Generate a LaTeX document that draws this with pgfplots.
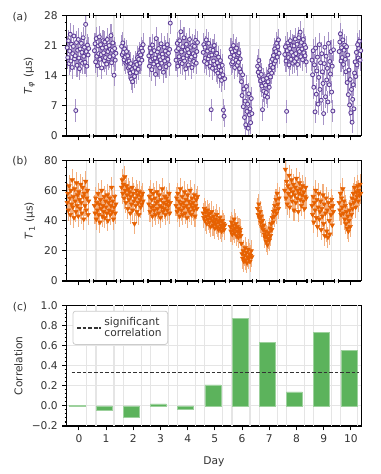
\documentclass[border=0pt]{standalone}
\usepackage{fontspec}
\setmainfont{DejaVu Sans}
\usepackage{pgfplots}
\pgfplotsset{compat=1.18}

\definecolor{purp}{HTML}{5E3C99}
\definecolor{orng}{HTML}{E66101}
\definecolor{barg}{HTML}{5CB35C}
\definecolor{txt}{HTML}{333333}

\tikzset{axl/.style={black, line width=0.9pt}}

\pgfplotsset{
  panel/.style={
    scale only axis, width=220.9pt, height=90.5pt,
    xmin=-0.45, xmax=10.38,
    axis line style={line width=0.9pt},
    tick pos=left, tick align=outside,
    major tick length=3.2pt, minor tick length=1.6pt,
    tick style={black, line width=0.8pt},
    xtick={0,...,10},
    ymajorgrids, xmajorgrids=false,
    grid style={black!10, line width=0.9pt},
    extra x ticks={0.29,0.63,1.29,1.63,2.29,2.63,3.29,3.63,4.29,4.63,5.29,5.63,6.29,6.63,7.29,7.63,8.29,8.63,9.29,9.63,10.23},
    extra x tick labels={},
    extra x tick style={grid=major, major tick length=0pt, tick style={draw=none}},
    tick label style={font=\fontsize{8}{9.6}\selectfont, text=txt},
    label style={font=\fontsize{8}{9.6}\selectfont, text=txt},
    /pgf/number format/assume math mode=true,
    clip mode=individual,
  },
  broken/.style={separate axis lines, x axis line style={draw=none}, xticklabels={}},
  astyle/.style={only marks, mark=*, mark size=1.5pt,
    mark options={draw=purp, fill=purp!12!white, line width=0.65pt}, color=purp,
    error bars/.cd, y dir=both, y fixed=2.6, error mark=none,
    error bar style={purp!55, line width=0.8pt}},
  bstyle/.style={only marks, mark=triangle*, mark size=1.9pt,
    mark options={rotate=180, fill=orng, draw=orng}, color=orng,
    error bars/.cd, y dir=both, y fixed=7, error mark=none,
    error bar style={orng!50, line width=0.8pt}},
}
\pgfplotsset{dashleg/.style={legend image code/.code={\draw[##1] (0pt,0pt) -- (18pt,0pt);}}}

% one day of measurements, spread evenly over that day's segment
\newcommand{\aday}[2]{\addplot[astyle] table[x expr={#1-0.43+0.02257*\coordindex}, y index=0, header=false, row sep=\\]{#2};}
\newcommand{\bday}[2]{\addplot[bstyle] table[x expr={#1-0.43+0.02257*\coordindex}, y index=0, header=false, row sep=\\]{#2};}

% broken top/bottom axis lines
\newcommand{\axseg}[3]{%
  \draw[axl] (axis cs:#1,0) -- (axis cs:#2,0);
  \draw[axl] (axis cs:#1,#3) -- (axis cs:#2,#3);}
\newcommand{\axbrk}[2]{%
  \draw[axl] ([yshift=-1.7pt]axis cs:#1,0) -- ([yshift=1.7pt]axis cs:#1,0);
  \draw[axl] ([yshift=-1.7pt]axis cs:#1,#2) -- ([yshift=1.7pt]axis cs:#1,#2);}
\newcommand{\brokenx}[1]{%
  \axseg{-0.45}{0.385}{#1}\axbrk{0.385}{#1}
  \axseg{0.54}{1.385}{#1}\axbrk{0.54}{#1}\axbrk{1.385}{#1}
  \axseg{1.54}{2.385}{#1}\axbrk{1.54}{#1}\axbrk{2.385}{#1}
  \axseg{2.54}{3.385}{#1}\axbrk{2.54}{#1}\axbrk{3.385}{#1}
  \axseg{3.54}{4.385}{#1}\axbrk{3.54}{#1}\axbrk{4.385}{#1}
  \axseg{4.54}{5.385}{#1}\axbrk{4.54}{#1}\axbrk{5.385}{#1}
  \axseg{5.54}{6.385}{#1}\axbrk{5.54}{#1}\axbrk{6.385}{#1}
  \axseg{6.54}{7.385}{#1}\axbrk{6.54}{#1}\axbrk{7.385}{#1}
  \axseg{7.54}{8.385}{#1}\axbrk{7.54}{#1}\axbrk{8.385}{#1}
  \axseg{8.54}{9.385}{#1}\axbrk{8.54}{#1}\axbrk{9.385}{#1}
  \axseg{9.54}{10.38}{#1}\axbrk{9.54}{#1}}

\begin{document}
\begin{tikzpicture}
\useasboundingbox (0,0) rectangle (285pt,355.5pt);

% (a) T_phi
\begin{axis}[panel, broken, at={(50pt,253.5pt)}, anchor=south west,
  ymin=0, ymax=28, ytick={0,7,14,21,28}, minor y tick num=3,
  ylabel={\textit{T}\textsubscript{\textit{φ}} (μs)}]
\aday{0}{20.5\\18.2\\22.1\\16.8\\19.7\\23.6\\17.4\\21.3\\15.9\\19.1\\20.8\\23.2\\17.9\\18.6\\5.9\\21.7\\16.4\\19.9\\22.4\\18.1\\15.6\\20.2\\17.3\\21.5\\19.4\\16.9\\22.8\\18.5\\20.6\\17.1\\25.9\\19.6\\16.2\\21.1\\18.8\\20.3\\}
\aday{1}{19.8\\21.4\\17.2\\22.6\\18.5\\16.3\\20.9\\19.1\\23.0\\17.8\\21.2\\18.9\\15.8\\20.4\\22.1\\19.3\\17.5\\21.8\\18.2\\20.6\\16.7\\22.4\\19.6\\17.9\\21.0\\18.4\\20.1\\23.3\\17.0\\19.9\\21.6\\18.7\\14.1\\20.3\\17.6\\19.2\\}
\aday{2}{20.8\\18.9\\21.6\\19.4\\17.7\\20.2\\18.3\\16.9\\19.6\\17.2\\18.6\\15.8\\17.4\\16.1\\14.6\\16.8\\13.2\\15.4\\12.6\\14.9\\16.3\\13.8\\15.9\\17.1\\14.7\\16.6\\18.2\\15.5\\17.8\\19.3\\16.9\\18.8\\20.4\\17.6\\19.7\\21.2\\}
\aday{3}{18.6\\16.2\\20.4\\17.5\\19.3\\15.4\\21.1\\17.9\\16.7\\19.8\\18.1\\14.3\\22.6\\17.2\\19.5\\16.4\\20.3\\18.4\\15.8\\17.7\\21.4\\16.9\\19.0\\18.2\\14.8\\20.6\\17.4\\19.7\\16.1\\18.9\\21.2\\17.8\\19.2\\16.6\\20.1\\26.2\\}
\aday{4}{17.6\\19.8\\21.5\\16.2\\20.3\\18.4\\22.1\\17.1\\24.2\\19.5\\16.8\\20.7\\18.1\\22.8\\17.4\\19.9\\15.6\\21.3\\18.7\\20.1\\16.5\\19.3\\22.4\\17.8\\20.6\\18.3\\15.9\\21.0\\19.1\\17.3\\20.8\\18.6\\22.2\\16.9\\19.6\\21.7\\}
\aday{5}{19.4\\21.2\\17.3\\20.6\\18.1\\22.3\\16.8\\19.7\\17.9\\21.5\\18.6\\16.2\\20.1\\6.1\\18.8\\15.7\\19.9\\17.4\\21.0\\16.6\\18.9\\15.1\\19.2\\17.0\\14.6\\18.3\\16.1\\13.8\\17.5\\15.2\\12.9\\16.4\\14.2\\6.0\\4.6\\13.3\\}
\aday{6}{18.3\\20.1\\16.8\\19.5\\17.2\\21.0\\18.7\\15.9\\19.8\\17.6\\20.4\\16.4\\18.9\\17.1\\19.3\\15.6\\17.9\\14.8\\12.6\\9.4\\14.2\\6.8\\10.9\\4.3\\8.1\\2.6\\11.5\\5.7\\7.4\\1.8\\9.8\\4.9\\6.3\\3.1\\8.7\\5.2\\}
\aday{7}{16.2\\14.8\\17.5\\13.9\\15.6\\12.8\\14.3\\11.6\\6.1\\13.1\\10.4\\12.2\\9.3\\11.8\\10.1\\13.4\\9.0\\12.6\\14.1\\11.3\\15.2\\13.7\\16.4\\14.6\\17.8\\15.9\\18.7\\16.8\\20.2\\17.4\\19.6\\21.5\\18.3\\20.7\\22.3\\19.2\\}
\aday{8}{18.9\\20.7\\17.4\\5.7\\19.8\\21.6\\18.2\\16.5\\20.3\\22.1\\17.8\\19.4\\21.0\\16.9\\18.7\\20.9\\17.3\\22.5\\19.1\\18.0\\21.3\\16.6\\20.1\\22.8\\19.6\\24.1\\18.4\\21.7\\20.2\\17.7\\22.4\\19.3\\21.1\\18.6\\20.5\\17.2\\}
\aday{9}{17.6\\14.2\\19.8\\11.3\\16.5\\5.6\\20.4\\9.7\\15.1\\18.3\\7.4\\13.6\\21.2\\10.8\\17.0\\8.3\\19.1\\14.9\\12.2\\5.2\\16.8\\20.6\\9.1\\18.5\\13.0\\15.7\\7.9\\21.5\\11.9\\17.3\\14.4\\19.6\\10.2\\16.2\\5.8\\20.0\\}
\aday{10}{19.6\\21.8\\23.7\\17.4\\20.5\\18.2\\22.3\\16.6\\19.9\\21.1\\17.8\\14.9\\20.7\\12.4\\18.8\\9.6\\15.3\\7.2\\13.1\\5.4\\10.8\\3.2\\8.5\\11.9\\6.3\\14.6\\17.2\\13.8\\19.4\\16.5\\21.2\\18.1\\20.3\\22.0\\17.6\\19.8\\}
\brokenx{28}
\end{axis}

% (b) T_1
\begin{axis}[panel, broken, at={(50pt,144.75pt)}, anchor=south west,
  ymin=0, ymax=80, ytick={0,20,40,60,80}, minor y tick num=3,
  ylabel={\textit{T}\textsubscript{1} (μs)}]
\bday{0}{52\\58\\47\\63\\55\\44\\60\\51\\67\\49\\56\\42\\61\\53\\46\\65\\50\\57\\43\\59\\54\\48\\64\\52\\45\\62\\56\\41\\58\\50\\66\\47\\55\\60\\44\\53\\}
\bday{1}{50\\45\\55\\41\\52\\47\\58\\44\\51\\39\\54\\48\\60\\43\\50\\46\\56\\42\\53\\49\\45\\57\\40\\52\\47\\55\\44\\50\\62\\46\\53\\41\\49\\56\\45\\51\\}
\bday{2}{62\\67\\58\\64\\55\\69\\60\\52\\63\\57\\48\\61\\54\\59\\45\\56\\51\\62\\47\\58\\53\\38\\55\\50\\60\\46\\57\\52\\44\\59\\54\\49\\56\\51\\58\\53\\}
\bday{3}{51\\56\\46\\60\\49\\54\\43\\58\\50\\47\\55\\44\\52\\59\\48\\53\\45\\57\\50\\42\\54\\49\\61\\46\\52\\48\\56\\44\\51\\55\\47\\53\\50\\58\\45\\52\\}
\bday{4}{50\\55\\46\\58\\48\\53\\43\\61\\51\\47\\56\\44\\52\\49\\59\\45\\54\\50\\42\\57\\48\\53\\46\\60\\51\\44\\55\\49\\52\\47\\57\\43\\50\\54\\48\\56\\}
\bday{5}{45\\42\\48\\40\\46\\43\\38\\47\\41\\44\\39\\45\\36\\42\\46\\40\\37\\43\\39\\35\\41\\38\\44\\36\\40\\34\\39\\42\\35\\37\\33\\40\\36\\38\\34\\37\\}
\bday{6}{36\\33\\39\\31\\37\\34\\41\\32\\35\\38\\30\\36\\33\\29\\35\\32\\34\\30\\25\\18\\15\\20\\13\\17\\22\\14\\19\\12\\16\\21\\15\\18\\13\\17\\20\\16\\}
\bday{7}{48\\44\\51\\42\\46\\39\\43\\36\\40\\34\\37\\31\\29\\33\\26\\30\\24\\28\\32\\27\\35\\30\\38\\34\\42\\39\\46\\43\\50\\47\\54\\45\\58\\51\\48\\55\\}
\bday{8}{60\\74\\55\\66\\51\\63\\58\\70\\49\\61\\56\\67\\53\\59\\64\\47\\57\\62\\52\\68\\55\\60\\46\\58\\65\\54\\61\\50\\57\\63\\53\\59\\48\\56\\62\\55\\}
\bday{9}{50\\44\\56\\39\\52\\47\\60\\42\\54\\36\\49\\58\\41\\46\\53\\34\\48\\43\\57\\38\\51\\30\\45\\55\\33\\47\\29\\52\\40\\31\\49\\44\\54\\37\\50\\46\\}
\bday{10}{52\\47\\58\\44\\55\\49\\61\\45\\53\\41\\50\\38\\46\\35\\43\\33\\40\\47\\36\\51\\44\\55\\48\\58\\52\\62\\54\\49\\59\\56\\63\\53\\60\\57\\64\\58\\}
\brokenx{80}
\end{axis}

% (c) correlation
\begin{axis}[panel, at={(50pt,36pt)}, anchor=south west,
  ymin=-0.2, ymax=1.0, ytick={-0.2,0,0.2,0.4,0.6,0.8,1.0},
  yticklabels={−0.2,0.0,0.2,0.4,0.6,0.8,1.0}, minor y tick num=4,
  xlabel={Day}, ylabel={Correlation},
  legend style={at={(0.02,0.955)}, anchor=north west, draw=black!20,
    rounded corners=2pt, fill=white, line width=0.6pt,
    font=\fontsize{8}{8.4}\selectfont, text=txt, cells={align=left}, inner sep=2.5pt}]
\addplot[ybar, bar width=0.59, bar shift=-0.075, fill=barg, draw=barg!60!white,
  line width=0.4pt, forget plot] coordinates {(0,0.005) (1,-0.04) (2,-0.11) (3,0.02) (4,-0.03) (5,0.21) (6,0.87) (7,0.63) (8,0.14) (9,0.73) (10,0.55)};
\addplot[black!80, line width=1.1pt, dash pattern=on 2.8pt off 1.4pt, dashleg]
  coordinates {(-0.27,0.33) (10.3,0.33)};
\addlegendentry{significant\\correlation}
\end{axis}

\node[font=\fontsize{8}{9.6}\selectfont, text=txt] at (15pt,343pt) {(a)};
\node[font=\fontsize{8}{9.6}\selectfont, text=txt] at (15pt,234.75pt) {(b)};
\node[font=\fontsize{8}{9.6}\selectfont, text=txt] at (15pt,125.5pt) {(c)};
\end{tikzpicture}
\end{document}
